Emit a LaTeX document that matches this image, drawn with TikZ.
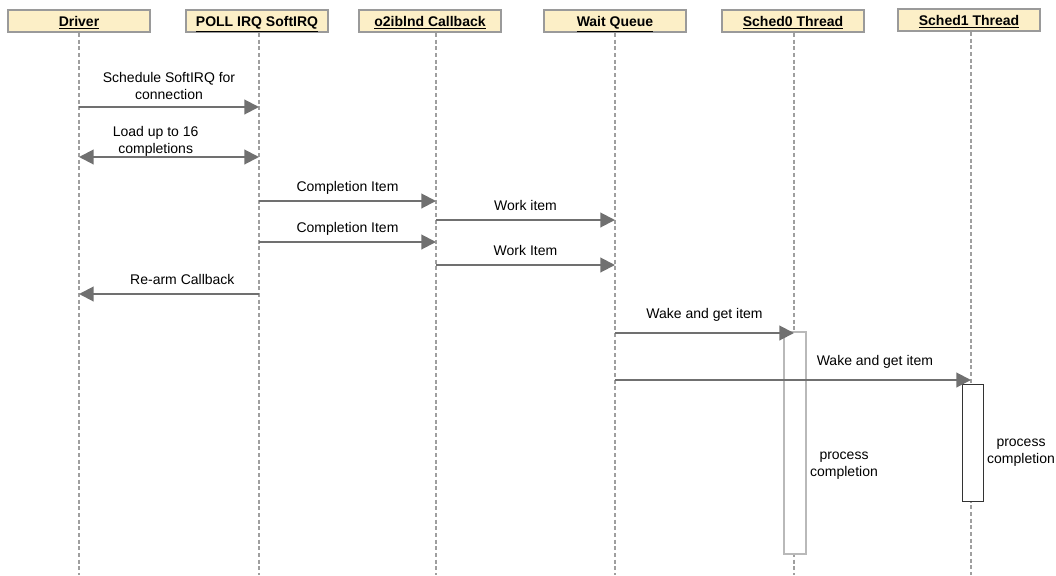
\documentclass[tikz,border=0pt]{standalone}
\usepackage{fontspec}
\setmainfont{Liberation Sans}
\usetikzlibrary{positioning}
\usetikzlibrary{arrows.meta}

\definecolor{headfill}{HTML}{FCEFC7}
\definecolor{headline}{HTML}{9A9A9A}
\definecolor{msgline}{HTML}{707070}

\begin{document}
\begin{tikzpicture}
  [x=0.75pt, y=-0.75pt,
   every node/.style = {font=\fontsize{10.5}{12.5}\selectfont},
   head/.style = {draw=headline, line width=1.4pt, fill=headfill, minimum width=106pt,
                  minimum height=17pt, inner sep=0pt, text height=10.5pt, text depth=2.5pt,
                  font=\fontsize{10.5}{12.5}\selectfont\bfseries},
   life/.style = {draw=gray!75, dash pattern=on 3pt off 2pt, line width=0.8pt},
   msg/.style = {draw=msgline, line width=1.5pt, -{Triangle[length=11pt, width=11pt]}},
   lbl/.style = {align=center, inner sep=1pt, text depth=2.5pt, above=3pt},
   act/.style = {fill=white, minimum width=16pt, inner sep=0pt}]
  \useasboundingbox (0,0) rectangle (1056,575);

  \coordinate (drvL) at (79, 33);
  \coordinate (pollL) at (259, 33);
  \coordinate (cbL) at (436, 33);
  \coordinate (wqL) at (615, 33);
  \coordinate (s0L) at (794, 33);
  \coordinate (s1L) at (971, 32);
  \coordinate (bot) at (0, 575);

  \draw[life] (drvL) -- (drvL |- bot);
  \draw[life] (pollL) -- (pollL |- bot);
  \draw[life] (cbL) -- (cbL |- bot);
  \draw[life] (wqL) -- (wqL |- bot);
  \draw[life] (s0L) -- (s0L |- bot);
  \draw[life] (s1L) -- (s1L |- bot);

  \node[head] (drv) at (79, 21) {\underline{Driver}};
  \node[head] (poll) at (257, 21) {\underline{POLL IRQ SoftIRQ}};
  \node[head] (cb) at (430, 21) {\underline{o2iblnd Callback}};
  \node[head] (wq) at (615, 21) {\underline{Wait Queue}};
  \node[head] (s0) at (793, 21) {\underline{Sched0 Thread}};
  \node[head] (s1) at (969, 20) {\underline{Sched1 Thread}};

  \coordinate (m1) at (0, 107);
  \coordinate (m2) at (0, 157);
  \coordinate (m3) at (0, 201);
  \coordinate (m4) at (0, 220);
  \coordinate (m5) at (0, 242);
  \coordinate (m6) at (0, 265);
  \coordinate (m7) at (0, 294);
  \coordinate (m8) at (0, 333);
  \coordinate (m9) at (0, 380);

  \draw[msg] (drvL |- m1) -- node[lbl, above=1.5pt] {Schedule SoftIRQ for\\connection} (pollL |- m1);
  \draw[msg, {Triangle[length=11pt, width=11pt]}-{Triangle[length=11pt, width=11pt]}]
    (drvL |- m2) -- node[lbl, above=-1.5pt, xshift=-10] {Load up to 16\\completions} (pollL |- m2);
  \draw[msg] (pollL |- m3) -- node[lbl] {Completion Item} (cbL |- m3);
  \draw[msg] (cbL |- m4) -- node[lbl] {Work item} (wqL |- m4);
  \draw[msg] (pollL |- m5) -- node[lbl] {Completion Item} (cbL |- m5);
  \draw[msg] (cbL |- m6) -- node[lbl] {Work Item} (wqL |- m6);
  \draw[msg] (pollL |- m7) -- node[lbl, xshift=10] {Re-arm Callback} (drvL |- m7);

  \node[act, draw=gray!55, line width=1.4pt, minimum height=167pt] (act0) at (795, 443) {};
  \node[act, draw=black!80, line width=0.9pt, minimum height=88pt] (act1) at (973, 443) {};

  \draw[msg] (wqL |- m8) -- node[lbl, above=7pt] {Wake and get item} (s0L |- m8);
  \draw[msg] (wqL |- m9) -- node[lbl, above=7pt, pos=0.73] {Wake and get item} (s1L |- m9);

  \node[align=center] (p0) at (844, 466) {process\\completion};
  \node[align=center] (p1) at (1021, 453) {process\\completion};
\end{tikzpicture}
\end{document}
